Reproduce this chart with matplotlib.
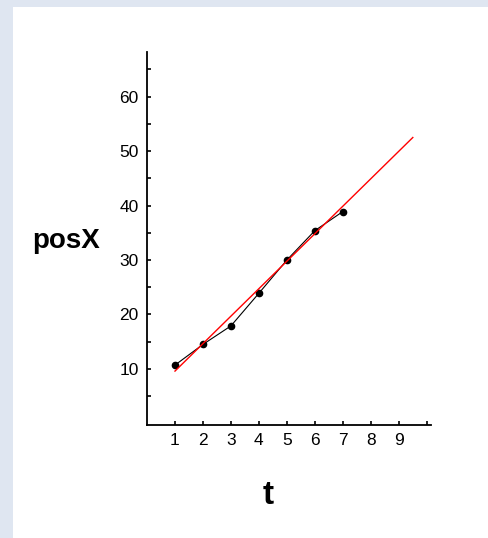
import matplotlib.pyplot as plt
from matplotlib.patches import Rectangle

plt.rcParams['font.family'] = ['Liberation Sans', 'DejaVu Sans']

# measured points
t = [1, 2, 3, 4, 5, 6, 7]
posx = [10.7, 14.5, 17.9, 23.9, 30.0, 35.4, 38.9]

# red fit line, end points
fit_t = [1, 9.5]
fit_y = [9.6, 52.5]

xticks = [1, 2, 3, 4, 5, 6, 7, 8, 9, 10]
xlabels = ['1', '2', '3', '4', '5', '6', '7', '8', '9', '']
yticks = [10, 20, 30, 40, 50, 60]
yminor = [5, 15, 25, 35, 45, 55, 65]

fig = plt.figure(figsize=(4.88, 5.38), dpi=100)
fig.patch.set_facecolor('#dfe6f1')
# white panel inside the blue frame
fig.patches.append(Rectangle((13/488, 0), 1, 1 - 7/538, transform=fig.transFigure,
                             facecolor='white', edgecolor='none', zorder=-1))

ax = fig.add_axes([147/488, 1 - 425/538, (431 - 147)/488, (425 - 52)/538])
ax.set_facecolor('none')
ax.set_zorder(2)

ax.plot(t, posx, color='black', lw=0.8, marker='o', ms=4.5, mfc='black', mec='black')
ax.plot(fit_t, fit_y, color='red', lw=1)

ax.set_xlim(0, 10.15)
ax.set_ylim(-0.3, 68.2)
ax.set_xticks(xticks)
ax.set_xticklabels(xlabels)
ax.set_yticks(yticks)
ax.set_yticks(yminor, minor=True)

for s in ['top', 'right']:
    ax.spines[s].set_visible(False)
for s in ['left', 'bottom']:
    ax.spines[s].set_linewidth(1.3)

ax.tick_params(which='both', direction='in', length=3, width=1.2, labelsize=12.5, pad=6)

fig.text(66/488, 1 - 241/538, 'posX', fontsize=20, fontweight='bold', ha='center', va='center')
fig.text(268/488, 1 - 495/538, 't', fontsize=24, fontweight='bold', ha='center', va='center')

fig.savefig('out.png', dpi=100)
